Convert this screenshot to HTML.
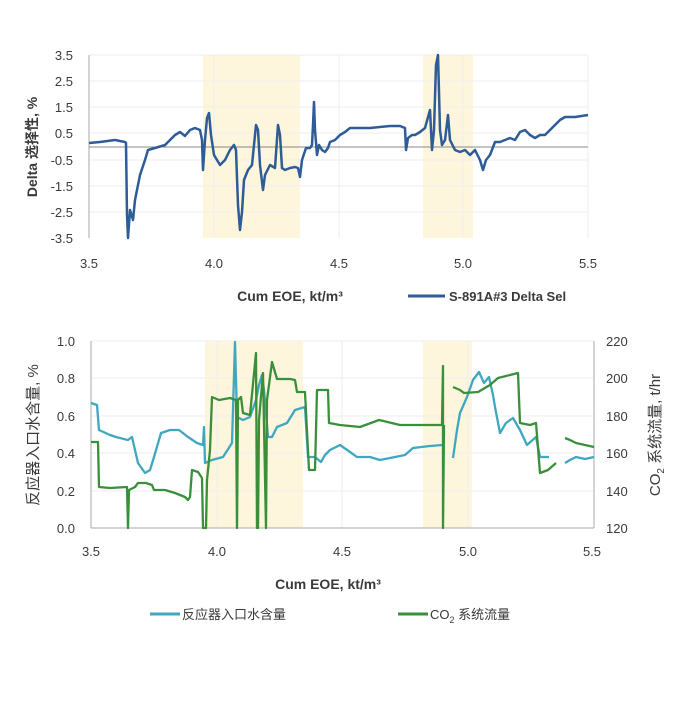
<!DOCTYPE html>
<html><head><meta charset="utf-8"><style>
body{margin:0;background:#fff;}
svg text{font-family:"Liberation Sans","Noto Sans CJK SC",sans-serif;fill:#3a3a3a;}
</style></head><body>
<svg width="692" height="700" viewBox="0 0 692 700" xmlns="http://www.w3.org/2000/svg">
<!-- TOP CHART -->
<rect x="203" y="55" width="97" height="183" fill="#fdf5dc"/>
<rect x="423" y="55" width="50" height="183" fill="#fdf5dc"/>
<g stroke="#eeeeee" stroke-width="1">
<line x1="89" y1="55" x2="588" y2="55"/><line x1="89" y1="81" x2="588" y2="81"/><line x1="89" y1="107" x2="588" y2="107"/><line x1="89" y1="133" x2="588" y2="133"/><line x1="89" y1="160" x2="588" y2="160"/><line x1="89" y1="186" x2="588" y2="186"/><line x1="89" y1="212" x2="588" y2="212"/>
<line x1="214" y1="55" x2="214" y2="238"/><line x1="339" y1="55" x2="339" y2="238"/><line x1="463" y1="55" x2="463" y2="238"/><line x1="588" y1="55" x2="588" y2="238"/>
</g>
<line x1="89" y1="55" x2="89" y2="238" stroke="#aaa"/>
<line x1="89" y1="147" x2="588" y2="147" stroke="#888"/>
<g font-size="13" text-anchor="end">
<text x="73" y="60">3.5</text><text x="73" y="86">2.5</text><text x="73" y="112">1.5</text><text x="73" y="138">0.5</text><text x="73" y="165">-0.5</text><text x="73" y="191">-1.5</text><text x="73" y="217">-2.5</text><text x="73" y="243">-3.5</text>
</g>
<g font-size="13" text-anchor="middle">
<text x="89" y="268">3.5</text><text x="214" y="268">4.0</text><text x="339" y="268">4.5</text><text x="463" y="268">5.0</text><text x="588" y="268">5.5</text>
</g>
<text x="290" y="301" font-size="14" text-anchor="middle" font-weight="bold">Cum EOE, kt/m³</text>
<text transform="translate(37,147) rotate(-90)" font-size="14" text-anchor="middle" font-weight="bold">Delta 选择性, %</text>
<line x1="408" y1="296" x2="445" y2="296" stroke="#2e5c97" stroke-width="3"/>
<text x="449" y="301" font-size="13" font-weight="bold">S-891A#3 Delta Sel</text>
<polyline fill="none" stroke="#2e5c97" stroke-width="2.5" stroke-linejoin="round" points="89,143 100,142 115,140 125,142 126,143 127,215 128,238 130,210 133,220 135,200 140,175 145,160 148,150 155,148 165,145 170,140 175,135 180,132 185,136 190,130 195,128 200,130 202,140 203,170 205,140 207,118 209,113 211,135 214,155 220,165 225,160 230,150 234,145 236,150 238,205 240,230 242,212 244,180 248,170 252,165 256,125 258,130 260,165 263,190 265,175 270,165 275,168 278,125 280,135 282,168 285,170 290,168 295,167 298,168 300,177 302,160 306,148 310,148 312,145 313,125 314,102 315,130 317,155 319,145 322,150 325,152 328,148 330,142 335,140 340,135 345,132 350,128 360,128 370,128 380,127 390,126 400,126 405,128 406,150 408,138 412,135 415,135 420,132 425,128 430,110 432,150 434,130 436,65 438,55 440,130 442,145 445,140 448,115 450,140 455,150 460,152 465,150 470,155 475,150 480,160 483,170 486,160 490,155 495,142 500,142 505,140 510,138 515,140 520,132 525,130 530,135 535,138 540,135 545,135 550,130 555,125 560,120 565,117 575,117 588,115"/>

<!-- BOTTOM CHART -->
<rect x="205" y="341" width="98" height="187" fill="#fdf5dc"/>
<rect x="423" y="341" width="49" height="187" fill="#fdf5dc"/>
<g stroke="#eeeeee" stroke-width="1">
<line x1="91" y1="341" x2="594" y2="341"/><line x1="91" y1="378" x2="594" y2="378"/><line x1="91" y1="416" x2="594" y2="416"/><line x1="91" y1="453" x2="594" y2="453"/><line x1="91" y1="491" x2="594" y2="491"/>
<line x1="217" y1="341" x2="217" y2="528"/><line x1="342" y1="341" x2="342" y2="528"/><line x1="468" y1="341" x2="468" y2="528"/>
</g>
<line x1="91" y1="341" x2="91" y2="528" stroke="#aaa"/>
<line x1="594" y1="341" x2="594" y2="528" stroke="#aaa"/>
<line x1="91" y1="528" x2="594" y2="528" stroke="#aaa"/>
<g font-size="13" text-anchor="end">
<text x="75" y="346">1.0</text><text x="75" y="383">0.8</text><text x="75" y="421">0.6</text><text x="75" y="458">0.4</text><text x="75" y="496">0.2</text><text x="75" y="533">0.0</text>
</g>
<g font-size="13" text-anchor="start">
<text x="606" y="346">220</text><text x="606" y="383">200</text><text x="606" y="421">180</text><text x="606" y="458">160</text><text x="606" y="496">140</text><text x="606" y="533">120</text>
</g>
<g font-size="13" text-anchor="middle">
<text x="91" y="556">3.5</text><text x="217" y="556">4.0</text><text x="342" y="556">4.5</text><text x="468" y="556">5.0</text><text x="592" y="556">5.5</text>
</g>
<text x="328" y="589" font-size="14" text-anchor="middle" font-weight="bold">Cum EOE, kt/m³</text>
<text transform="translate(38,435) rotate(-90)" font-size="15" text-anchor="middle">反应器入口水含量, %</text>
<text transform="translate(660,435) rotate(-90)" font-size="15" text-anchor="middle">CO<tspan font-size="10" dy="4">2</tspan><tspan dy="-4"> 系统流量, t/hr</tspan></text>
<line x1="150" y1="614" x2="180" y2="614" stroke="#3fa7c0" stroke-width="3"/>
<text x="182" y="619" font-size="13">反应器入口水含量</text>
<line x1="398" y1="614" x2="428" y2="614" stroke="#3a8f3a" stroke-width="3"/>
<text x="430" y="619" font-size="13">CO<tspan font-size="9" dy="4">2</tspan><tspan dy="-4"> 系统流量</tspan></text>
<polyline fill="none" stroke="#3fa7c0" stroke-width="2.3" stroke-linejoin="round" points="91,403 97,405 99,430 110,435 116,437 128,440 132,437 138,463 145,473 150,470 154,457 161,433 170,430 179,430 188,437 197,443 203,445 204,427 205,463 212,460 223,457 232,443 235,342 237,417 243,420 250,417 256,400 259,385 262,375 264,390 268,437 272,437 277,427 287,423 295,410 305,407 308,457 315,457 321,462 325,455 330,450 340,445 350,452 357,457 370,457 380,460 395,457 405,455 413,448 430,446 442,445"/>
<polyline fill="none" stroke="#3fa7c0" stroke-width="2.3" stroke-linejoin="round" points="453,458 457,430 460,413 467,397 473,380 479,372 484,383 489,377 493,395 495,407 500,433 506,423 513,418 520,430 527,445 536,437 540,457 549,457"/>
<polyline fill="none" stroke="#3fa7c0" stroke-width="2.3" stroke-linejoin="round" points="565,463 570,460 576,457 585,459 594,457"/>
<polyline fill="none" stroke="#3a8f3a" stroke-width="2.3" stroke-linejoin="round" points="91,442 98,442 99,487 110,488 127,487 128,528 129,490 135,487 138,483 146,483 152,485 154,490 165,490 175,493 185,497 188,500 190,497 192,470 198,472 202,478 203,528 206,528 207,480 210,450 212,397 219,400 230,398 236,400 237,528 238,400 241,397 243,413 250,415 256,353 257,528 258,528 259,420 263,373 266,528 267,400 272,362 277,379 290,379 295,380 297,392 305,392 309,470 315,470 317,390 328,390 329,423 340,425 360,427 379,420 400,425 420,425 442,425 443,366 443,528 444,425"/>
<polyline fill="none" stroke="#3a8f3a" stroke-width="2.3" stroke-linejoin="round" points="453,387 460,390 464,393 478,392 490,385 498,378 510,375 518,373 520,423 530,425 536,423 540,473 548,470 556,463"/>
<polyline fill="none" stroke="#3a8f3a" stroke-width="2.3" stroke-linejoin="round" points="565,438 570,440 576,443 585,445 594,447"/>
</svg>
</body></html>
